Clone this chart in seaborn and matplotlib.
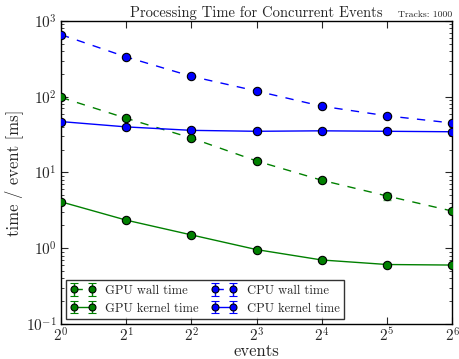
import matplotlib
matplotlib.use("Agg")
import matplotlib.pyplot as plt
import numpy as np
import pandas as pd
import seaborn as sns

# data
events = [1, 2, 4, 8, 16, 32, 64]
gpu_wall = [98, 52, 28.5, 14.2, 7.9, 4.9, 3.1]
gpu_wall_err = [3, 2, 1, 0.5, 0.3, 0.5, 0.1]
gpu_kernel = [4.1, 2.35, 1.5, 0.96, 0.70, 0.61, 0.60]
gpu_kernel_err = [0.05, 0.03, 0.02, 0.01, 0.01, 0.01, 0.01]
cpu_wall = [660, 335, 186, 119, 75, 56, 45]
cpu_wall_err = [10, 5, 3, 2, 1, 1, 1]
cpu_kernel = [47, 40, 36, 35, 35.5, 35, 34.5]
cpu_kernel_err = [2, 3, 1, 0.5, 0.5, 0.5, 0.5]

series = [
    ("GPU wall time", gpu_wall, gpu_wall_err, "g", (0, (6, 6))),
    ("GPU kernel time", gpu_kernel, gpu_kernel_err, "g", "-"),
    ("CPU wall time", cpu_wall, cpu_wall_err, "b", (0, (6, 6))),
    ("CPU kernel time", cpu_kernel, cpu_kernel_err, "b", "-"),
]

sns.set_style("ticks")
plt.rcParams["font.family"] = ["cmr10", "DejaVu Serif"]
plt.rcParams["mathtext.fontset"] = "cm"
plt.rcParams["axes.formatter.use_mathtext"] = True
plt.rcParams["xtick.direction"] = "in"
plt.rcParams["ytick.direction"] = "in"
plt.rcParams["axes.unicode_minus"] = False

fig = plt.figure(figsize=(4.59, 3.59), dpi=100)
ax = fig.add_axes([0.133, 0.0975, 0.852, 0.844])

handles = []
for label, vals, errs, col, ls in series:
    df = pd.DataFrame({"events": events, "time": vals})
    sns.lineplot(data=df, x="events", y="time", ax=ax, color=col, linestyle=ls,
                 linewidth=1, marker="o", markersize=6, markeredgecolor="k",
                 markeredgewidth=0.8, legend=False, zorder=3)
    ax.errorbar(events, vals, yerr=errs, fmt="none", ecolor=col, alpha=0.6,
                capsize=3, elinewidth=1, zorder=2)
    h = ax.errorbar([np.nan], [np.nan], yerr=[np.nan], fmt="o", ls=ls, color=col,
                    ecolor=col, markersize=5, markeredgecolor="k", markeredgewidth=0.8,
                    capsize=3, linewidth=1, label=label)
    handles.append(h)

ax.set_xscale("log", base=2)
ax.set_yscale("log")
ax.set_xlim(1, 64)
ax.set_ylim(0.1, 1000)
ax.set_xticks(events)
ax.tick_params(which="both", top=True, right=True, labelsize=11)
ax.tick_params(axis="x", pad=2)
ax.tick_params(axis="y", pad=3)
ax.tick_params(which="major", length=5, width=0.8)
ax.tick_params(which="minor", length=2.5, width=0.6)
for s in ax.spines.values():
    s.set_linewidth(1)
    s.set_color("k")

ax.set_xlabel("events", fontsize=12, labelpad=-1)
ax.set_ylabel("time / event [ms]", fontsize=12, labelpad=2)
ax.set_title("Processing Time for Concurrent Events", fontsize=10.5, pad=3)
ax.text(1.0, 1.008, "Tracks: 1000", transform=ax.transAxes, ha="right",
        va="bottom", fontsize=7)

leg = ax.legend(handles=handles, loc="lower left", ncol=2, numpoints=2,
                fontsize=9, frameon=True, fancybox=False, borderaxespad=0.4,
                handlelength=2.0, columnspacing=1.0, labelspacing=0.45,
                borderpad=0.35, handletextpad=0.8)
leg.get_frame().set_edgecolor("k")
leg.get_frame().set_linewidth(1)

fig.savefig("out.png", dpi=100)
